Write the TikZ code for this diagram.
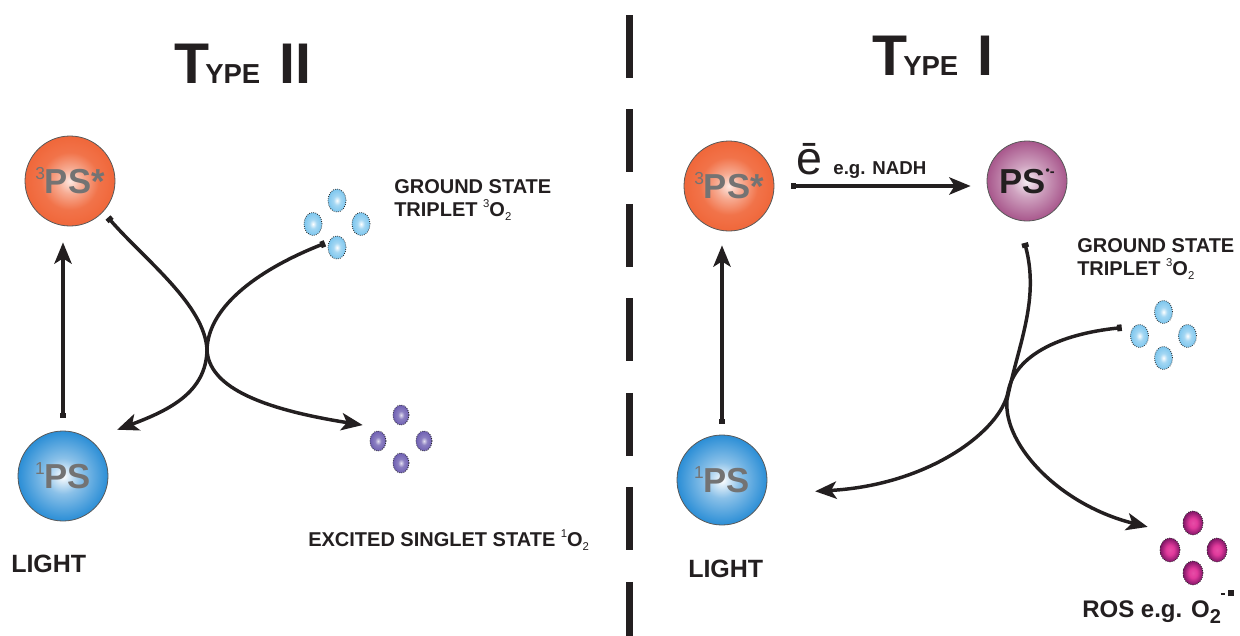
\documentclass[tikz,border=0pt]{standalone}
\usepackage{fontspec}
\setmainfont{Liberation Sans}
\usepackage{xcolor}
\usetikzlibrary{positioning, shapes.geometric, calc, arrows.meta}

\definecolor{ink}{HTML}{231F20}
\definecolor{psorange}{HTML}{F0673A}
\definecolor{psblue}{HTML}{2B8ED6}
\definecolor{psmauve}{HTML}{A8578C}
\definecolor{oxblue}{HTML}{7DC6EE}
\definecolor{oxviolet}{HTML}{6F60B2}
\definecolor{rosmag}{HTML}{E23A9C}
\definecolor{rosdark}{HTML}{7E1565}

\pgfdeclareradialshading{orangeshade}{\pgfpoint{0bp}{0bp}}{color(0bp)=(psorange!15!white); color(7bp)=(psorange!55!white); color(16bp)=(psorange!92!white); color(25bp)=(psorange); color(50bp)=(psorange)}
\pgfdeclareradialshading{blueshade}{\pgfpoint{0bp}{0bp}}{color(0bp)=(white); color(10bp)=(psblue!55!white); color(25bp)=(psblue); color(50bp)=(psblue)}
\pgfdeclareradialshading{mauveshade}{\pgfpoint{0bp}{0bp}}{color(0bp)=(psmauve!10!white); color(10bp)=(psmauve!55!white); color(25bp)=(psmauve); color(50bp)=(psmauve)}
\pgfdeclareradialshading{oxblueshade}{\pgfpoint{0bp}{0bp}}{color(0bp)=(white); color(10bp)=(oxblue!70!white); color(25bp)=(oxblue); color(50bp)=(oxblue)}
\pgfdeclareradialshading{oxvioletshade}{\pgfpoint{0bp}{0bp}}{color(0bp)=(oxviolet!20!white); color(10bp)=(oxviolet!80!white); color(25bp)=(oxviolet); color(50bp)=(oxviolet)}
\pgfdeclareradialshading{rosshade}{\pgfpoint{0bp}{0bp}}{color(0bp)=(rosmag!90!white); color(10bp)=(rosmag); color(25bp)=(rosdark); color(50bp)=(rosdark)}

\newcommand{\typehead}[1]{{\fontsize{43}{43}\selectfont T}\kern-3pt{\fontsize{20.6}{20.6}\selectfont YPE}\hspace{14.6pt}{\fontsize{43}{43}\selectfont #1}}
\newcommand{\supsm}[1]{\raisebox{0.8ex}{\fontsize{8.5}{8.5}\selectfont\mdseries #1}}
\newcommand{\subsm}[1]{\raisebox{-0.4ex}{\fontsize{8.5}{8.5}\selectfont\mdseries #1}}
\newcommand{\balltop}[1]{\raisebox{10.5pt}{\fontsize{13}{13}\selectfont\mdseries #1}}

\tikzset{
  ball/.style={circle, draw=black!65, line width=0.6pt, minimum size=67.5pt, inner sep=0pt,
    text height=18.6pt, text depth=0pt, font=\fontsize{26}{26}\selectfont\bfseries, text=black!55},
  orangeball/.style={ball, shade, shading=orangeshade},
  blueball/.style={ball, shade, shading=blueshade},
  mauveball/.style={ball, shade, shading=mauveshade, minimum size=60pt, text=ink},
  blob/.style={ellipse, draw=black!85, densely dotted, line width=0.6pt, inner sep=0pt},
  blueblob/.style={blob, shade, shading=oxblueshade, minimum width=13.5pt, minimum height=17.25pt},
  violetblob/.style={blob, shade, shading=oxvioletshade, minimum width=12pt, minimum height=15pt},
  rosblob/.style={blob, shade, shading=rosshade, minimum width=15pt, minimum height=18pt},
  cluster/.style={circle, minimum size=#1, inner sep=0pt},
  link/.style={line width=2.6pt, draw=ink, {Square[length=3.5pt,width=5pt]}-{Stealth[length=16pt,width=13pt,inset=4pt]}},
  title/.style={font=\bfseries, text=ink, inner sep=0pt, anchor=base west},
  tag/.style={font=\fontsize{15}{15}\selectfont\bfseries, text=ink, inner sep=0pt, anchor=base west},
  lighttag/.style={font=\fontsize{18.75}{18.75}\selectfont\bfseries, text=ink, inner sep=0pt, anchor=base west},
  divider/.style={line width=5.25pt, draw=ink, dash pattern=on 47.25pt off 23.6pt}
}

\begin{document}
\begin{tikzpicture}[x=0.75pt, y=-0.75pt]
  \useasboundingbox (0,0) rectangle (1240,636);

  %% Type II
  \node[title] (typeII) at (174,83) {\typehead{II}};
  \node[orangeball] (ps3L) at (70,181) {\balltop{3}PS*};
  \node[blueball] (ps1L) at (63,476) {\balltop{1}PS};
  \node[lighttag] (lightL) at (11,572) {LIGHT};

  \node[cluster=33.75pt] (gsL) at (337,224) {};
  \foreach \n/\dx/\dy in {t/0/-23.5, l/-24/0, r/24/0, b/0/23.5}
    \node[blueblob] (gsL-\n) at ($(gsL)+(\dx,\dy)$) {};
  \node[tag] (gsLa) at (394,193) {GROUND STATE};
  \node[tag, below=17.25pt of gsLa.base west, anchor=base west] (gsLb) {TRIPLET \supsm{3}O\subsm{2}};

  \node[cluster=60.75pt] (exL) at (401,439) {};
  \foreach \n/\dx/\dy in {t/0/-24, l/-23/2, r/23/2, b/0/24}
    \node[violetblob] (exL-\n) at ($(exL)+(\dx,\dy)$) {};
  \node[tag] (exLa) at (308,546) {EXCITED SINGLET STATE \supsm{1}O\subsm{2}};

  \draw[link, shorten <=9.75pt, shorten >=12pt] (ps1L.north) -- (ps1L |- ps3L.south);
  \draw[link, shorten <=5.5pt] (ps3L.-43) .. controls (145,260) and (205,305) .. (207,350)
    .. controls (209,385) and (255,408) .. (exL.160);
  \draw[link, shorten >=21.5pt] (gsL.238) .. controls (262,268) and (208,305) .. (207,350)
    .. controls (206,392) and (170,410) .. (ps1L.53);

  %% divider
  \draw[divider] (629,15) -- (629,650);

  %% Type I
  \node[title] (typeI) at (872,75) {\typehead{I}};
  \node[orangeball] (ps3R) at (729,186) {\balltop{3}PS*};
  \node[blueball] (ps1R) at (722,480) {\balltop{1}PS};
  \node[mauveball] (psR) at (1027,181) {PS\raisebox{14pt}{\fontsize{9}{9}\selectfont\textbullet}\raisebox{13pt}{\fontsize{11}{11}\selectfont -}};
  \node[lighttag] (lightR) at (688,577) {LIGHT};

  \node[font=\fontsize{35}{35}\selectfont, text=ink, inner sep=0pt, anchor=base west] (eminus) at (796,174) {ē};
  \node[font=\fontsize{14}{14}\selectfont\bfseries, text=ink, inner sep=0pt, right=8pt of eminus.base east, anchor=base west] (nadh) {e.g. NADH};

  \node[cluster=63.2pt] (gsR) at (1163.5,335) {};
  \foreach \n/\dx/\dy in {t/0/-23, l/-24/1, r/24/1, b/0/23}
    \node[blueblob] (gsR-\n) at ($(gsR)+(\dx,\dy)$) {};
  \node[tag] (gsRa) at (1077,252) {GROUND STATE};
  \node[tag, below=17.25pt of gsRa.base west, anchor=base west] (gsRb) {TRIPLET \supsm{3}O\subsm{2}};

  \node[cluster=74.5pt] (rosR) at (1193,548) {};
  \foreach \n/\dx/\dy in {t/0/-25, l/-23/2, r/24/2, b/0/25}
    \node[rosblob] (rosR-\n) at ($(rosR)+(\dx,\dy)$) {};
  \node[font=\fontsize{18}{18}\selectfont\bfseries, text=ink, inner sep=0pt, anchor=base west] (rosRa) at (1082,617)
    {ROS e.g. O\raisebox{-5pt}{\fontsize{15}{15}\selectfont 2}\raisebox{16.5pt}{\rule{3pt}{1.2pt}}\hspace{2.5pt}\raisebox{15.5pt}{\rule{4.5pt}{4.5pt}}};

  \draw[link, shorten <=8.25pt, shorten >=10.5pt] (ps1R.north) -- (ps1R |- ps3R.south);
  \draw[link, shorten <=12.75pt, shorten >=12pt] (ps3R.east) -- (ps3R.east -| psR.west);
  \draw[link, shorten <=17.4pt] (psR.-102) .. controls (1040,300) and (1018,345) .. (1007,400)
    .. controls (1003,445) and (1060,505) .. (rosR.155);
  \draw[link, shorten >=37.5pt] (gsR.170) .. controls (1060,334) and (1015,355) .. (1008,392)
    .. controls (1001,430) and (930,485) .. (ps1R.-18);
\end{tikzpicture}
\end{document}
